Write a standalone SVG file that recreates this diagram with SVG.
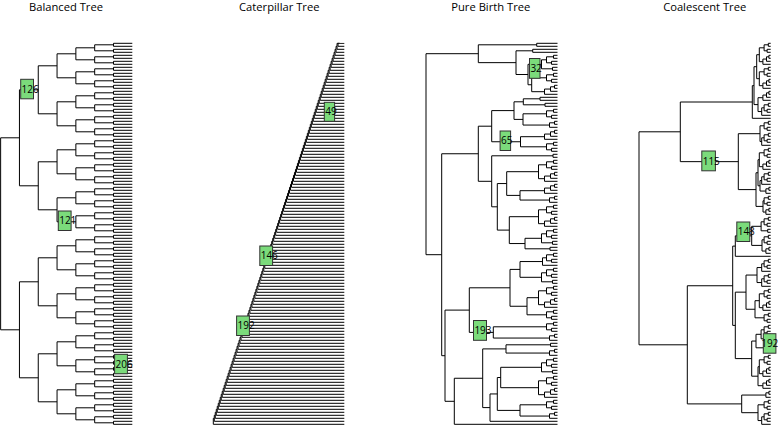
<svg xmlns="http://www.w3.org/2000/svg" width="778" height="426" viewBox="0 0 778 426">
<style>
.e{fill:none;stroke:#000;stroke-width:1;vector-effect:non-scaling-stroke}
.ttl{font-family:"Open Sans","Liberation Sans",sans-serif;font-size:11.2px;fill:#000;text-anchor:middle}
.lb{fill:#7bdb7b;stroke:#333;stroke-width:1}
.lt{font-family:"Open Sans","Liberation Sans",sans-serif;font-size:10px;fill:#000}
</style>
<defs>
<clipPath id="cc"><rect x="200" y="42.8" width="144.3" height="384"/></clipPath>
<g id="b1"><path class="e" d="M0 0H-18.81V3H0"/></g>
<g id="b2"><use href="#b1"/><use href="#b1" y="6"/><path class="e" d="M-18.81 1.5H-37.62V7.5H-18.81"/></g>
<g id="b3"><use href="#b2"/><use href="#b2" y="12"/><path class="e" d="M-37.62 4.5H-56.43V16.5H-37.62"/></g>
<g id="b4"><use href="#b3"/><use href="#b3" y="24"/><path class="e" d="M-56.43 10.5H-75.24V34.5H-56.43"/></g>
<g id="b5"><use href="#b4"/><use href="#b4" y="48"/><path class="e" d="M-75.24 22.5H-94.05V70.5H-75.24"/></g>
<g id="b6"><use href="#b5"/><use href="#b5" y="96"/><path class="e" d="M-94.05 46.5H-112.86V142.5H-94.05"/></g>
<g id="b7"><use href="#b6"/><use href="#b6" y="192"/><path class="e" d="M-112.86 94.5H-131.67V286.5H-112.86"/></g>
<path id="c1" class="e" d="M0 -6V0H200M0 -6H0.99"/>
<g id="c2"><use href="#c1"/><use href="#c1" transform="translate(0.99,-3)"/></g>
<g id="c4"><use href="#c2"/><use href="#c2" transform="translate(1.98,-6)"/></g>
<g id="c8"><use href="#c4"/><use href="#c4" transform="translate(3.96,-12)"/></g>
<g id="c16"><use href="#c8"/><use href="#c8" transform="translate(7.92,-24)"/></g>
<g id="c32"><use href="#c16"/><use href="#c16" transform="translate(15.84,-48)"/></g>
<g id="c64"><use href="#c32"/><use href="#c32" transform="translate(31.68,-96)"/></g>
<g id="c128"><use href="#c64"/><use href="#c64" transform="translate(63.36,-192)"/></g>
<path id="k2b" class="e" d="M0 0H-7V3H0"/>
<path id="k3" class="e" d="M0 0H-3V3H0M-3 1.5H-8V6H0"/>
<path id="k4" class="e" d="M0 0H-4V3H0M0 6H-6V9H0M-4 1.5H-11V7.5H-6"/>
<path id="k4b" class="e" d="M0 0H-3V3H0M-3 1.5H-7V6H0M-7 3.75H-13V9H0"/>
<path id="k5" class="e" d="M0 0H-4V3H0M0 6H-6V9H0M-4 1.5H-11V7.5H-6M-11 4.5H-15V12H0"/>
<path id="k6" class="e" d="M0 0H-4V3H0M0 6H-6V9H0M-4 1.5H-11V7.5H-6M0 12H-5V15H0M-11 4.5H-16V13.5H-5"/>
<path id="k8" class="e" d="M0 0H-4V3H0M0 6H-6V9H0M-4 1.5H-11V7.5H-6M0 12H-3V15H0M-3 13.5H-7V18H0M-7 15.75H-13V21H0M-11 4.5H-19V18.375H-13"/>
</defs>
<rect width="778" height="426" fill="#fff"/>

<text class="ttl" x="66" y="11">Balanced Tree</text>
<text class="ttl" x="279.3" y="11">Caterpillar Tree</text>
<text class="ttl" x="490.8" y="11">Pure Birth Tree</text>
<text class="ttl" x="704.7" y="11">Coalescent Tree</text>

<g id="balanced-tree">
<g id="balanced-connectors"><use href="#b7" x="132.3" y="43.3"/></g>
<g id="bal-126"><rect class="lb" x="20.7" y="79.3" width="12.8" height="19.5"/><text class="lt" x="21.6" y="92.6">126</text></g>
<g id="bal-121"><rect class="lb" x="58.3" y="211" width="12.8" height="19.5"/><text class="lt" x="59.2" y="224.3">121</text></g>
<g id="bal-206"><rect class="lb" x="114.6" y="354.3" width="12.8" height="19.5"/><text class="lt" x="115.5" y="367.6">206</text></g>
</g>

<g id="caterpillar-tree">
<g id="caterpillar-connectors" clip-path="url(#cc)"><use href="#c128" transform="translate(213.3,424.3)"/><path class="e" d="M338 43.3H339.1"/></g>
<g id="cat-49"><rect class="lb" x="324.3" y="102.3" width="10.3" height="19"/><text class="lt" x="325.2" y="115.3">49</text></g>
<g id="cat-146"><rect class="lb" x="259.8" y="246" width="12.8" height="19.5"/><text class="lt" x="260.7" y="259.3">146</text></g>
<g id="cat-192"><rect class="lb" x="236.6" y="316" width="12.8" height="19.5"/><text class="lt" x="237.5" y="329.3">192</text></g>
</g>

<g id="pure-birth-tree">
<g id="pb-connectors">
<use href="#k6" x="557.5" y="55.3"/>
<use href="#k4" x="557.5" y="73.3"/>
<use href="#k4b" x="557.5" y="85.3"/>
<use href="#k4" x="557.5" y="109.3"/>
<use href="#k3" x="557.5" y="121.3"/>
<use href="#k4b" x="557.5" y="130.3"/>
<use href="#k4" x="557.5" y="142.3"/>
<use href="#k8" x="557.5" y="160.3"/>
<use href="#k4b" x="557.5" y="184.3"/>
<use href="#k3" x="557.5" y="196.3"/>
<use href="#k8" x="557.5" y="205.3"/>
<use href="#k6" x="557.5" y="229.3"/>
<use href="#k5" x="557.5" y="253.3"/>
<use href="#k6" x="557.5" y="268.3"/>
<use href="#k8" x="557.5" y="286.3"/>
<use href="#k4" x="557.5" y="310.3"/>
<use href="#k4" x="557.5" y="322.3"/>
<use href="#k3" x="557.5" y="334.3"/>
<use href="#k2b" x="557.5" y="343.3"/>
<use href="#k3" x="557.5" y="349.3"/>
<use href="#k6" x="557.5" y="358.3"/>
<use href="#k8" x="557.5" y="376.3"/>
<use href="#k4" x="557.5" y="400.3"/>
<use href="#k3" x="557.5" y="412.3"/>
<path class="e" d="M557.5 43.3H536.7V46.3H557.5M557.5 49.3H532.7V52.3H557.5M546.5 77.8H531.7V91.7H544.5M541.5 64.3H528V84.75H531.7M532.7 50.8H516V74.5H528M536.7 44.8H478.3V62.65H516
M557.5 97.3H540V100.3H557.5M557.5 103.3H545V106.3H557.5M540 98.8H523.3V104.8H545M546.5 113.8H523V125.05H549.5M523.3 101.8H514V119.4H523M544.5 136.7H520.5V146.8H546.5M514 110.6H491.7V141.75H520.5
M557.5 154.3H553V157.3H557.5M544.5 190.7H520V200.05H549.5M538.5 171.7H506.7V195.4H520M557.5 247.3H550V250.3H557.5M541.5 238.3H525V248.8H550M538.5 216.7H509.3V243.55H525M506.7 183.55H497.3V230.1H509.3M553 155.8H491.7V206.8H497.3M491.7 126.2H478.3V181.3H491.7
M542.5 261.55H520V277.3H541.5M538.5 297.7H527V314.8H546.5M520 269.4H510V306.25H527M546.5 326.8H493.3V338.05H549.5M510 287.8H469.3V332.4H493.3
M550.5 344.8H506V353.05H549.5M541.5 367.3H500.7V387.7H538.5M546.5 404.8H520V416.05H549.5M500.7 377.5H497.3V410.4H520M497.3 393.95H490V421.3H557.5M506 348.9H482.7V407.6H490M482.7 378.25H454.3V424.3H557.5M469.3 310.1H445V401.3H454.3M478.3 153.75H441.7V355.7H445M478.3 53.7H426V254.7H441.7"/>
</g>
<g id="pb-32"><rect class="lb" x="529.5" y="58.5" width="10.5" height="19.8"/><text class="lt" x="530.4" y="72">32</text></g>
<g id="pb-65"><rect class="lb" x="500.1" y="131" width="10.5" height="19.5"/><text class="lt" x="501" y="144.3">65</text></g>
<g id="pb-193"><rect class="lb" x="473.5" y="320.5" width="13" height="19.8"/><text class="lt" x="474.4" y="334">193</text></g>
</g>

<g id="coalescent-tree">
<g id="co-connectors">
<g transform="translate(770.7,0) scale(0.6,1)">
<use href="#k8" y="43.3"/><use href="#k8" y="67.3"/><use href="#k4b" y="91.3"/><use href="#k5" y="103.3"/>
<use href="#k4" y="121.3"/><use href="#k5" y="133.3"/><use href="#k8" y="148.3"/><use href="#k5" y="172.3"/><use href="#k3" y="187.3"/>
<use href="#k4" y="196.3"/><use href="#k3" y="208.3"/><use href="#k6" y="217.3"/><use href="#k4" y="235.3"/>
<use href="#k3" y="247.3"/><use href="#k5" y="259.3"/><use href="#k5" y="274.3"/><use href="#k8" y="289.3"/>
<use href="#k4" y="313.3"/><use href="#k6" y="325.3"/><use href="#k4" y="343.3"/><use href="#k8" y="355.3"/>
<use href="#k4b" y="379.3"/><use href="#k3" y="391.3"/><use href="#k4" y="400.3"/><use href="#k5" y="412.3"/>
</g>
<path class="e" d="M759.3 54.7H756.7V78.7H759.3M762.9 97.7H758V111.55H761.7M756.7 66.7H754V104.6H758M754 85.65H752.3V118.3H770.7
M764.1 125.8H760V141.55H761.7M761.7 180.55H760V191.05H765.9M759.3 159.7H758V185.8H760M764.1 200.8H763V212.05H765.9M758 172.75H756V206.4H763M760 133.7H738.3V189.6H756M752.3 102H680.3V161.65H738.3
M764.1 239.8H762V251.05H765.9M761.1 226.3H751.7V245.4H762M751.7 235.85H735.3V256.3H770.7
M761.7 267.55H757V282.55H761.7M759.3 300.7H755V317.8H764.1M757 275.05H746V309.25H755M761.1 334.3H756V347.8H764.1M759.3 366.7H758V385.7H762.9M756 341.05H751.7V376.2H758M746 292.15H735.3V358.6H751.7M735.3 246.1H732.7V325.4H735.3
M764.1 404.8H758V420.55H761.7M765.9 395.05H741.7V412.7H758M732.7 285.75H687.3V403.9H741.7M680.3 131.8H639V344.8H687.3"/>
</g>
<g id="co-115"><rect class="lb" x="701.8" y="151" width="13.6" height="19.8"/><text class="lt" x="702.7" y="164.5">115</text></g>
<g id="co-148"><rect class="lb" x="736.8" y="222" width="13" height="19.5"/><text class="lt" x="737.7" y="235.3">148</text></g>
<g id="co-192"><rect class="lb" x="763.3" y="333.7" width="12.6" height="19.5"/><text class="lt" x="761.2" y="347" font-size="9.3">192</text></g>
</g>
</svg>
